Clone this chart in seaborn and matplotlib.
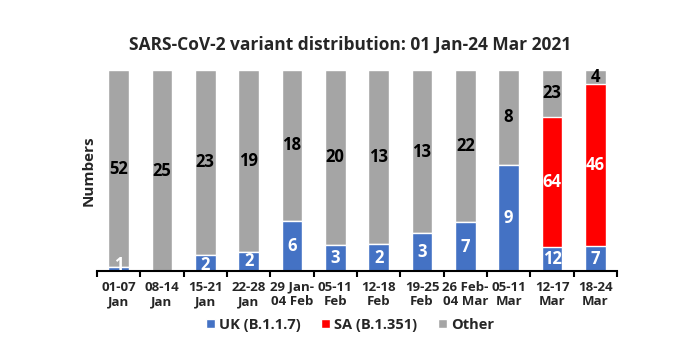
import matplotlib
matplotlib.use("Agg")
import matplotlib.pyplot as plt
import seaborn as sns
import numpy as np
import pandas as pd

weeks = ["01-07\nJan", "08-14\nJan", "15-21\nJan", "22-28\nJan", "29 Jan-\n04 Feb",
         "05-11\nFeb", "12-18\nFeb", "19-25\nFeb", "26 Feb-\n04 Mar", "05-11\nMar",
         "12-17\nMar", "18-24\nMar"]
uk = [1, 0, 2, 2, 6, 3, 2, 3, 7, 9, 12, 7]
sa = [0, 0, 0, 0, 0, 0, 0, 0, 0, 0, 64, 46]
other = [52, 25, 23, 19, 18, 20, 13, 13, 22, 8, 23, 4]

c_uk, c_sa, c_ot = "#4472C4", "#FF0000", "#A5A5A5"

sns.set_theme(style="white")
plt.rcParams['font.family'] = ['Open Sans', 'DejaVu Sans']

uk_a = np.array(uk, float); sa_a = np.array(sa, float); ot_a = np.array(other, float)
tot = uk_a + sa_a + ot_a
df = pd.DataFrame({"week": weeks,
                   "uk": uk_a / tot,
                   "uksa": (uk_a + sa_a) / tot,
                   "all": tot / tot})

fig = plt.figure(figsize=(7, 3.64), dpi=100)
ax = fig.add_axes([97/700, 1-271/364, 520/700, 201/364])
w = 0.47
sns.barplot(data=df, x="week", y="all", color=c_ot, width=w, saturation=1, ax=ax, label="Other")
sns.barplot(data=df, x="week", y="uksa", color=c_sa, width=w, saturation=1, ax=ax, label="SA (B.1.351)")
sns.barplot(data=df, x="week", y="uk", color=c_uk, width=w, saturation=1, ax=ax, label="UK (B.1.1.7)")
h, l = ax.get_legend_handles_labels()
if ax.get_legend() is not None:
    ax.get_legend().remove()

for i in range(len(weeks)):
    u, s, o, t = uk_a[i], sa_a[i], ot_a[i], tot[i]
    if u > 0:
        ax.text(i, u / t / 2 if u / t > 0.08 else 0.03, f"{int(u)}", ha="center", va="center",
                color="white", fontsize=12, fontweight="bold")
    if s > 0:
        ax.text(i, (u + s / 2) / t, f"{int(s)}", ha="center", va="center",
                color="white", fontsize=12, fontweight="bold")
    if o > 0:
        ax.text(i, (u + s + o / 2) / t, f"{int(o)}", ha="center", va="center",
                color="black", fontsize=12, fontweight="bold")

ax.set_ylim(0, 1)
ax.set_xlim(-0.5, len(weeks) - 0.5)
ax.set_yticks([])
ax.set_xlabel("")
ax.set_ylabel("Numbers", fontsize=11, fontweight="bold", labelpad=1)
for sp in ["top", "right", "left"]:
    ax.spines[sp].set_visible(False)
ax.spines["bottom"].set_color("black")
ax.spines["bottom"].set_linewidth(1.5)
ax.set_xticks(np.arange(len(weeks)))
ax.set_xticklabels(weeks, fontsize=9.5, fontweight="bold", linespacing=1.15)
ax.set_xticks(np.arange(-0.5, len(weeks)), minor=True)
ax.tick_params(axis="x", which="major", length=0, pad=7)
ax.tick_params(axis="x", which="minor", length=4, width=1.5, color="black", direction="out", bottom=True)

fig.text(0.5, 1-45/364, "SARS-CoV-2 variant distribution: 01 Jan-24 Mar 2021",
         ha="center", va="center", fontsize=12.5, fontweight="bold")

order = [l.index("UK (B.1.1.7)"), l.index("SA (B.1.351)"), l.index("Other")]
fig.legend([h[k] for k in order], [l[k] for k in order], loc="center",
           bbox_to_anchor=(0.5, 1-325/364), ncol=3, frameon=False,
           prop={"weight": "bold", "size": 10.5}, handlelength=0.6, handleheight=0.6,
           handletextpad=0.3, columnspacing=1.4)

fig.savefig("out.png", dpi=100)
